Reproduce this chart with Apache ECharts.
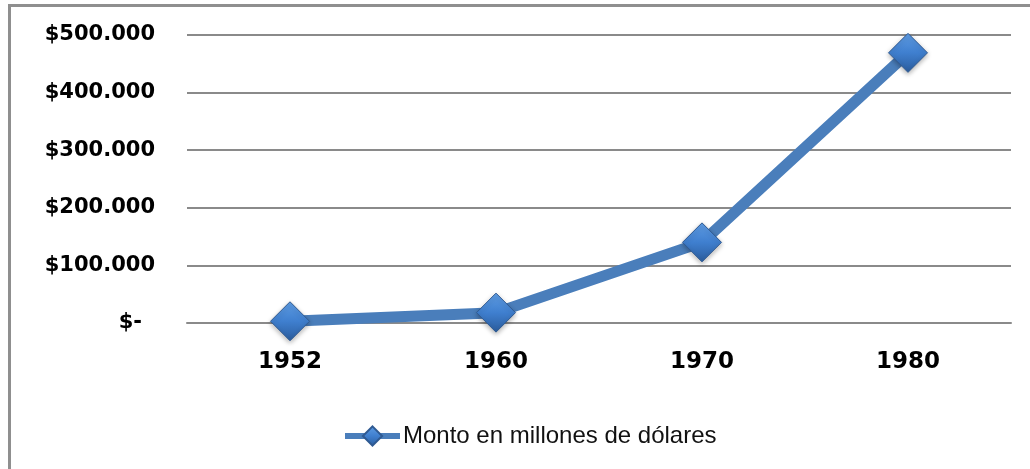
<!DOCTYPE html>
<html>
<head>
<meta charset="utf-8">
<script src="https://cdn.jsdelivr.net/npm/echarts@6/dist/echarts.min.js"></script>
<style>
  html, body { margin: 0; padding: 0; background: #fff }
  .frame { position: absolute; left: 8px; top: 4px; width: 1040px; height: 480px; border: 3px solid #8f8f8f; box-sizing: border-box }
  #chart { position: absolute; left: 0; top: 0; width: 1030px; height: 469px }
</style>
</head>
<body>
<div class="frame"></div>
<div id="chart"></div>
<script>
const years = ['1952', '1960', '1970', '1980']
const montos = [3000, 18000, 140000, 469000]
const seriesName = 'Monto en millones de dólares'

function formatPeso(v) {
  if (v === 0) return '{z|$-}'
  return '$' + (v / 1000).toFixed(0) + '.000'
}

const markerColor = new echarts.graphic.LinearGradient(0, 0, 0, 1, [
  { offset: 0, color: '#5f9de4' },
  { offset: 0.5, color: '#3f7fcf' },
  { offset: 1, color: '#2b5c9c' }
])

const chart = echarts.init(document.getElementById('chart'))

chart.setOption({
  animation: false,
  grid: { left: 187, right: 19, top: 35, bottom: 146 },
  legend: {
    left: 337,
    top: 419,
    itemWidth: 55,
    itemHeight: 24,
    itemGap: 3,
    lineStyle: { width: 6, color: '#4a7ebb' },
    textStyle: { fontFamily: 'Liberation Sans', fontSize: 24, color: '#111', padding: [0, 0, 0, -2] },
    data: [seriesName]
  },
  xAxis: {
    type: 'category',
    data: years,
    axisLine: { lineStyle: { color: '#8a8a8a', width: 2 } },
    axisTick: { show: false },
    axisLabel: { margin: 28, fontFamily: 'DejaVu Sans', fontWeight: 'bold', fontSize: 23, color: '#000' }
  },
  yAxis: {
    type: 'value',
    min: 0,
    max: 500000,
    interval: 100000,
    axisLine: { show: false },
    axisTick: { show: false },
    splitLine: { lineStyle: { color: '#8a8a8a', width: 2 } },
    axisLabel: {
      margin: 32,
      fontFamily: 'DejaVu Sans',
      fontWeight: 'bold',
      fontSize: 21,
      color: '#000',
      formatter: formatPeso,
      rich: {
        z: { fontFamily: 'DejaVu Sans', fontWeight: 'bold', fontSize: 21, color: '#000', padding: [0, 13, 0, 0] }
      }
    }
  },
  series: [{
    name: seriesName,
    type: 'line',
    data: montos,
    symbol: 'diamond',
    symbolSize: 39,
    lineStyle: { color: '#4a7ebb', width: 11 },
    itemStyle: {
      color: markerColor,
      borderColor: '#2f5a92',
      borderWidth: 1,
      shadowColor: 'rgba(0,0,0,0.3)',
      shadowBlur: 5,
      shadowOffsetY: 2
    },
    z: 3
  }]
})
</script>
</body>
</html>
